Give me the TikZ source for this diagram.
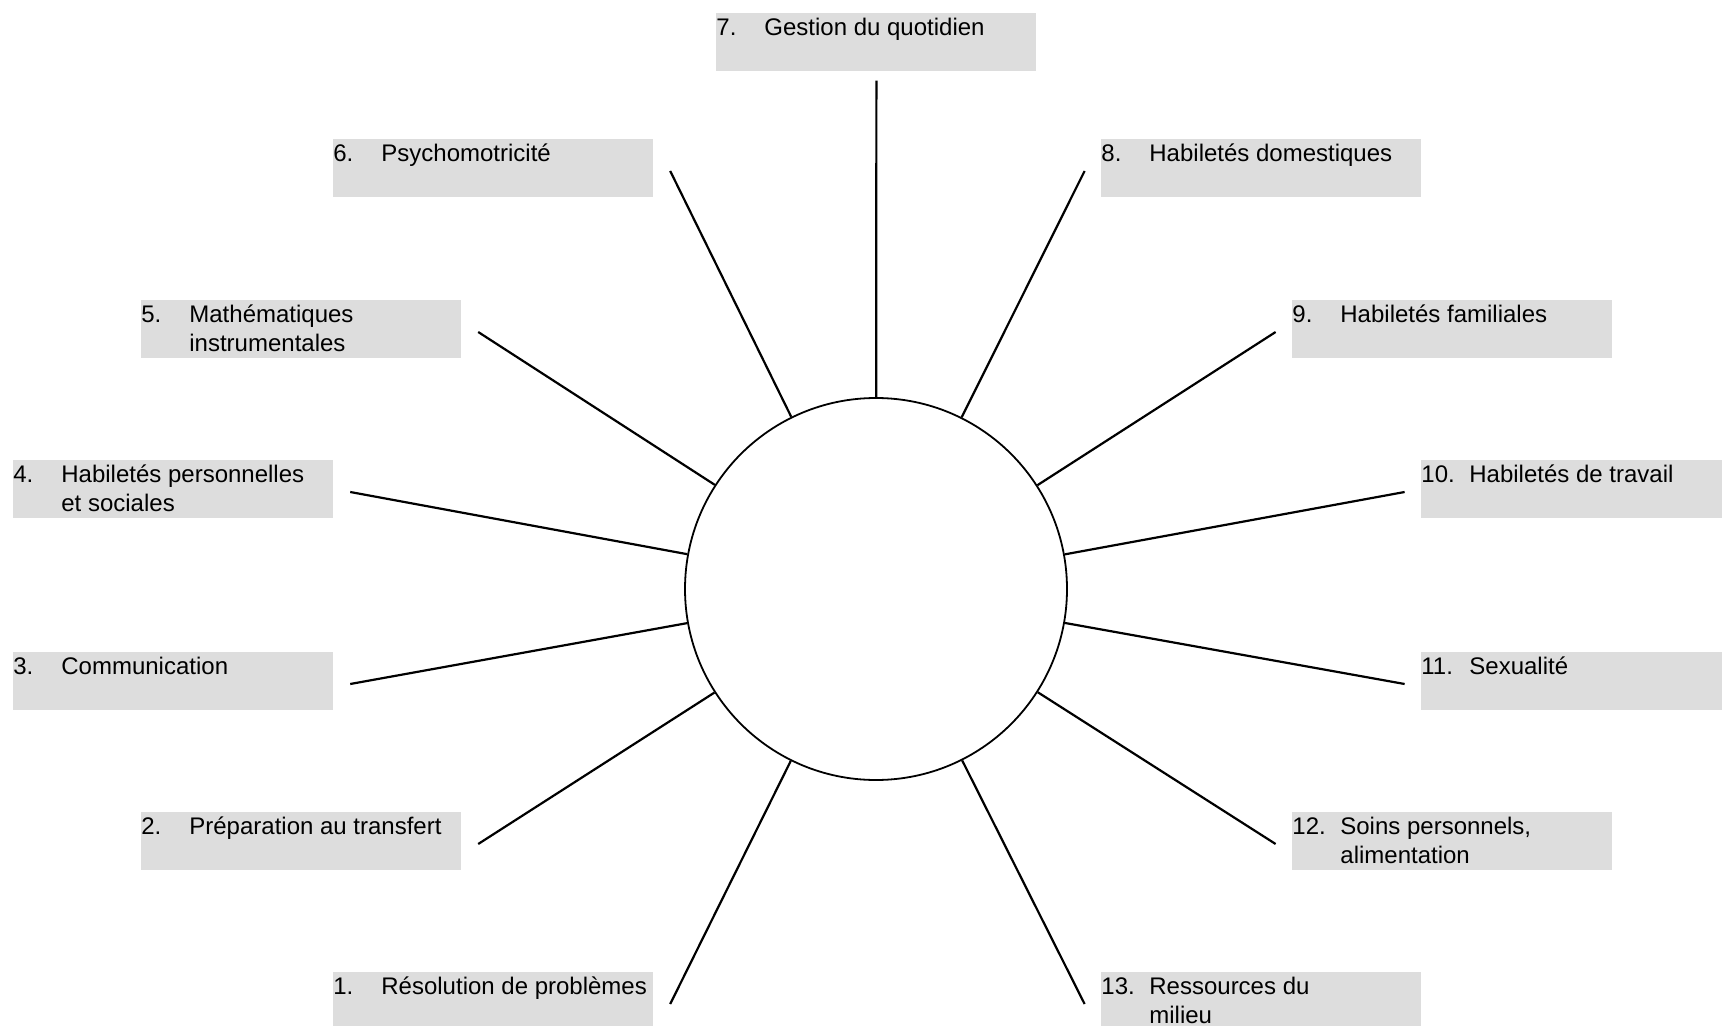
\documentclass[tikz,border=0pt]{standalone}
\usepackage{fontspec}
\setmainfont{Liberation Sans}
\definecolor{topicgray}{HTML}{DDDDDD}
\newcommand{\numWidth}{24pt}
\newcommand{\topicText}[2]{\makebox[\numWidth][l]{#1}\parbox[t]{134pt}{#2}}

\begin{document}
\begin{tikzpicture}[x=0.5pt, y=-0.5pt,
	topic/.style={fill=topicgray, anchor=north west, inner sep=0pt, minimum width=160pt, minimum height=29pt},
	topictext/.style={anchor=base west, inner sep=0pt, font=\fontsize{12pt}{14.3pt}\selectfont},
	spoke/.style={line width=1.1pt}]
		\useasboundingbox (0,0) rectangle (1722,1026);
		% centre
		\node[draw, circle, line width=0.9pt, minimum size=191pt, inner sep=0pt] (centre) at (876,589) {};
		% left side
		\node[topic] (t1) at (333,972) {};
		\node[topictext] (l1) at ([yshift=-11.3pt]t1.north west) {\topicText{1.}{Résolution de problèmes}};
		\node[topic] (t2) at (141,812) {};
		\node[topictext] (l2) at ([yshift=-11.3pt]t2.north west) {\topicText{2.}{Préparation au transfert}};
		\node[topic] (t3) at (13,652) {};
		\node[topictext] (l3) at ([yshift=-11.3pt]t3.north west) {\topicText{3.}{Communication}};
		\node[topic] (t4) at (13,460) {};
		\node[topictext] (l4) at ([yshift=-11.3pt]t4.north west) {\topicText{4.}{Habiletés personnelles\\et sociales}};
		\node[topic] (t5) at (141,300) {};
		\node[topictext] (l5) at ([yshift=-11.3pt]t5.north west) {\topicText{5.}{Mathématiques\\instrumentales}};
		\node[topic] (t6) at (333,139) {};
		\node[topictext] (l6) at ([yshift=-11.3pt]t6.north west) {\topicText{6.}{Psychomotricité}};
		% top
		\node[topic] (t7) at (716,13) {};
		\node[topictext] (l7) at ([yshift=-11.3pt]t7.north west) {\topicText{7.}{Gestion du quotidien}};
		% right side
		\node[topic] (t8) at (1101,139) {};
		\node[topictext] (l8) at ([yshift=-11.3pt]t8.north west) {\topicText{8.}{Habiletés domestiques}};
		\node[topic] (t9) at (1292,300) {};
		\node[topictext] (l9) at ([yshift=-11.3pt]t9.north west) {\topicText{9.}{Habiletés familiales}};
		\node[topic] (t10) at (1421,460) {};
		\node[topictext] (l10) at ([yshift=-11.3pt]t10.north west) {\topicText{10.}{Habiletés de travail}};
		\node[topic] (t11) at (1421,652) {};
		\node[topictext] (l11) at ([yshift=-11.3pt]t11.north west) {\topicText{11.}{Sexualité}};
		\node[topic] (t12) at (1292,812) {};
		\node[topictext] (l12) at ([yshift=-11.3pt]t12.north west) {\topicText{12.}{Soins personnels,\\alimentation}};
		\node[topic] (t13) at (1101,972) {};
		\node[topictext] (l13) at ([yshift=-11.3pt]t13.north west) {\topicText{13.}{Ressources du\\milieu}};
		% spokes
		\draw[spoke] (centre) -- ([xshift=8.2pt,yshift=-16pt]t1.north east);
		\draw[spoke] (centre) -- ([xshift=8.2pt,yshift=-16pt]t2.north east);
		\draw[spoke] (centre) -- ([xshift=8.2pt,yshift=-16pt]t3.north east);
		\draw[spoke] (centre) -- ([xshift=8.2pt,yshift=-16pt]t4.north east);
		\draw[spoke] (centre) -- ([xshift=8.2pt,yshift=-16pt]t5.north east);
		\draw[spoke] (centre) -- ([xshift=8.2pt,yshift=-16pt]t6.north east);
		\draw[spoke] (centre) -- ([yshift=-4.4pt]t7.south);
		\draw[spoke] (centre) -- ([xshift=-8.2pt,yshift=-16pt]t8.north west);
		\draw[spoke] (centre) -- ([xshift=-8.2pt,yshift=-16pt]t9.north west);
		\draw[spoke] (centre) -- ([xshift=-8.2pt,yshift=-16pt]t10.north west);
		\draw[spoke] (centre) -- ([xshift=-8.2pt,yshift=-16pt]t11.north west);
		\draw[spoke] (centre) -- ([xshift=-8.2pt,yshift=-16pt]t12.north west);
		\draw[spoke] (centre) -- ([xshift=-8.2pt,yshift=-16pt]t13.north west);
	\end{tikzpicture}
\end{document}
